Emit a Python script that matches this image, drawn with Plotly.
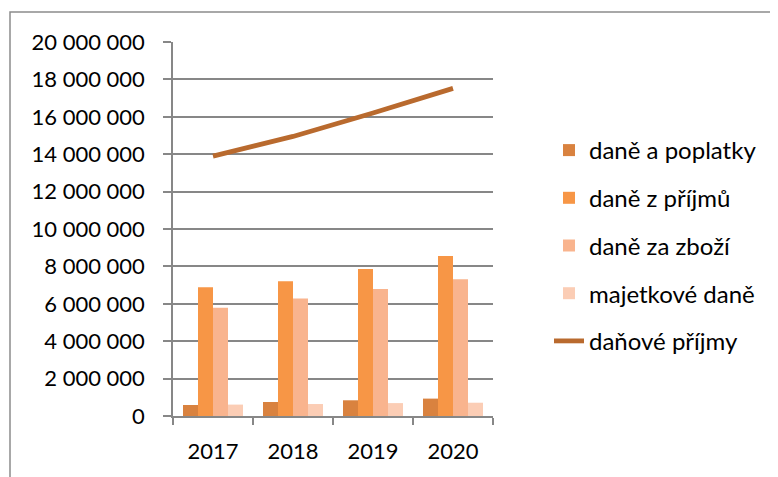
import plotly.graph_objects as go

years = ["2017", "2018", "2019", "2020"]
dane_a_poplatky = [590000, 750000, 840000, 930000]
dane_z_prijmu = [6880000, 7200000, 7860000, 8550000]
dane_za_zbozi = [5790000, 6290000, 6790000, 7310000]
majetkove_dane = [610000, 640000, 690000, 710000]
danove_prijmy = [13900000, 14950000, 16200000, 17520000]

bar_names = ["daně a poplatky", "daně z příjmů", "daně za zboží", "majetkové daně"]
bar_values = [dane_a_poplatky, dane_z_prijmu, dane_za_zbozi, majetkove_dane]
bar_colors = ["#D9823F", "#F79646", "#F9B48E", "#FBCDB5"]
line_color = "#B96A2E"

FONT = "Lato"
OFF = 8  # page body offset
W, H = 778 - OFF, 477 - OFF
# target pixel positions in the window
PL, PR, PT, PB = 173, 493, 42, 416
L, R, T, B = PL - OFF, W - (PR - OFF), PT - OFF, H - (PB - OFF)

fig = go.Figure()
for i, (n, v, c) in enumerate(zip(bar_names, bar_values, bar_colors)):
    fig.add_trace(go.Bar(x=years, y=v, name=n, marker_color=c,
                         marker_line_width=0, legendgroup=str(i)))
fig.add_trace(go.Scatter(x=years, y=danove_prijmy, name="daňové příjmy",
                         mode="lines", line=dict(color=line_color, width=4.8),
                         legendgroup="4"))

pw = PR - PL
ph = PB - PT
def px(x):
    return (x - PL) / pw
def py(y):
    return (PB - y) / ph

fig.update_layout(
    width=W, height=H,
    margin=dict(l=L, r=R, t=T, b=B),
    paper_bgcolor="white", plot_bgcolor="white",
    font=dict(family=FONT, size=22, color="#000000"),
    separators=". ",
    barmode="group", bargap=0.25, bargroupgap=0,
    legend=dict(x=px(549), y=py(128), xanchor="left", yanchor="top",
                tracegroupgap=13.5, font=dict(size=24, family=FONT),
                bgcolor="rgba(0,0,0,0)"),
    xaxis=dict(type="category", showline=True, linecolor="#878787", linewidth=1.5,
               ticks="outside", tickson="boundaries", ticklen=7,
               tickcolor="#878787", tickwidth=1.5, showgrid=False,
               ticklabelstandoff=15),
    yaxis=dict(range=[0, 20000000], dtick=2000000, tickformat=",d",
               showline=True, linecolor="#878787", linewidth=1.5,
               ticks="outside", ticklen=8, tickcolor="#878787", tickwidth=1.5,
               showgrid=True, gridcolor="#878787", gridwidth=1.5,
               zeroline=False, ticklabelstandoff=14),
    shapes=[dict(type="rect", xref="paper", yref="paper",
                 x0=px(10), x1=px(776), y0=py(485), y1=py(12),
                 line=dict(color="#8C8C8C", width=1.5), fillcolor="rgba(0,0,0,0)",
                 layer="below")],
)

fig.write_html("out.html")
